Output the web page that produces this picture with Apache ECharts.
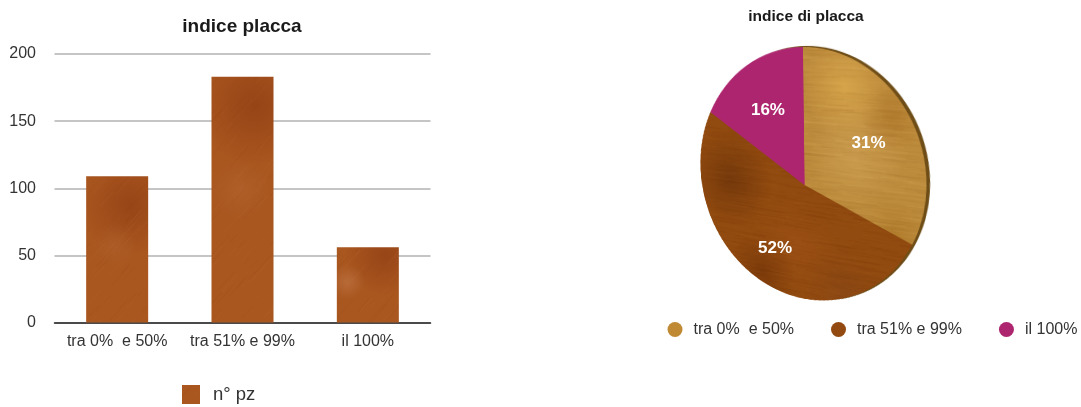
<!DOCTYPE html>
<html>
<head>
<meta charset="utf-8">
<script src="https://cdn.jsdelivr.net/npm/echarts@6/dist/echarts.min.js"></script>
<style>
  html, body { margin: 0; padding: 0; background: #fff; overflow: hidden; }
  #stage { position: relative; width: 1081px; height: 407px; }
  #disc { position: absolute; left: 0; top: 0; width: 340px; height: 340px; transform-origin: 0 0; }
  #main { position: absolute; left: 0; top: 0; width: 1081px; height: 407px; }
</style>
</head>
<body>
<div id="stage">
  <div id="disc"></div>
  <div id="main"></div>
</div>
<script>
// Data
const categories = ['tra 0%  e 50%', 'tra 51% e 99%', 'il 100%'];
const patientCounts = [109, 183, 56];
const platePercents = [31, 52, 16];
const yTicks = { min: 0, max: 200, interval: 50 };
const barSeriesName = 'n° pz';
const barTitle = 'indice placca';
const pieTitle = 'indice di placca';

const FONT = '"Liberation Sans", Arial, sans-serif';

// Small deterministic hash used for the streaks of the wood-like fills
function hash(i) { const s = Math.sin(i * 12.9898) * 43758.5453; return s - Math.floor(s); }

function makeTexture(w, h, base, blotches, streaks) {
  const c = document.createElement('canvas');
  c.width = w; c.height = h;
  const g = c.getContext('2d');
  g.fillStyle = base;
  g.fillRect(0, 0, w, h);
  blotches.forEach(([x, y, r, col]) => {
    const rg = g.createRadialGradient(x, y, 0, x, y, r);
    rg.addColorStop(0, col);
    rg.addColorStop(1, col.replace(/[\d.]+\)$/, '0)'));
    g.fillStyle = rg;
    g.fillRect(x - r, y - r, r * 2, r * 2);
  });
  for (let i = 0; i < streaks.count; i++) {
    const x = hash(i + 1) * w, y = hash(i + 500) * h;
    const len = streaks.len * (0.4 + hash(i + 900));
    const light = hash(i + 1300) > 0.5;
    g.strokeStyle = light ? streaks.light : streaks.dark;
    g.lineWidth = 0.4 + hash(i + 1700) * 0.6;
    g.beginPath();
    g.moveTo(x, y);
    g.lineTo(x + Math.cos(streaks.angle) * len, y + Math.sin(streaks.angle) * len);
    g.stroke();
  }
  return c;
}

// Bars: warm brown with darker patches near the top and diagonal grain
const barTexture = makeTexture(1081, 407, '#a9561f', [
  [130, 205, 50, 'rgba(140,58,18,0.6)'],
  [255, 105, 60, 'rgba(140,58,18,0.65)'],
  [385, 255, 40, 'rgba(140,58,18,0.6)'],
  [347, 282, 18, 'rgba(200,130,85,0.45)'],
  [240, 190, 30, 'rgba(190,115,65,0.3)'],
  [115, 245, 22, 'rgba(190,115,65,0.25)'],
  [190, 395, 10, 'rgba(130,50,15,0.4)']
], { count: 2600, len: 22, angle: -0.85, light: 'rgba(205,130,80,0.12)', dark: 'rgba(120,45,10,0.1)' });

// Pie: horizontal grain in gold, brown and magenta
const goldTexture = makeTexture(340, 340, '#bd8b3c', [
  [215, 60, 50, 'rgba(225,175,80,0.7)'],
  [230, 130, 60, 'rgba(215,170,95,0.55)'],
  [270, 90, 36, 'rgba(165,105,30,0.5)'],
  [280, 220, 40, 'rgba(165,110,30,0.6)']
], { count: 1500, len: 50, angle: 0.03, light: 'rgba(235,195,115,0.14)', dark: 'rgba(130,80,20,0.12)' });
const brownTexture = makeTexture(340, 340, '#914a0f', [
  [60, 170, 60, 'rgba(105,50,10,0.7)'],
  [150, 250, 60, 'rgba(165,85,25,0.5)'],
  [100, 290, 50, 'rgba(110,48,8,0.6)'],
  [220, 300, 60, 'rgba(135,70,25,0.5)']
], { count: 1500, len: 45, angle: 0.05, light: 'rgba(190,115,45,0.12)', dark: 'rgba(90,40,5,0.12)' });
const magentaFill = '#ad256f';

const pieTotal = platePercents.reduce((a, b) => a + b, 0);

// Disc geometry: the pie is drawn flat, then tilted in perspective
const DISC = { cx: 165, cy: 170, r: 150 };
const discPoint = (angle, frac) => [
  DISC.cx + DISC.r * frac * Math.sin(angle),
  DISC.cy - DISC.r * frac * Math.cos(angle)
];
const HALF_PI = Math.PI / 2;
const anchorsFlat = [discPoint(0, 1), discPoint(HALF_PI, 1), discPoint(2 * HALF_PI, 1), discPoint(3 * HALF_PI, 1)];
const anchorsPage = [[803, 47], [926, 196], [806, 299], [701, 176]];

function solveHomography(src, dst) {
  const A = [];
  src.forEach(([x, y], i) => {
    const [u, v] = dst[i];
    A.push([x, y, 1, 0, 0, 0, -x * u, -y * u, u]);
    A.push([0, 0, 0, x, y, 1, -x * v, -y * v, v]);
  });
  for (let i = 0; i < 8; i++) {
    let p = i;
    for (let r = i + 1; r < 8; r++) if (Math.abs(A[r][i]) > Math.abs(A[p][i])) p = r;
    [A[i], A[p]] = [A[p], A[i]];
    for (let r = 0; r < 8; r++) {
      if (r === i) continue;
      const f = A[r][i] / A[i][i];
      for (let c = i; c < 9; c++) A[r][c] -= f * A[i][c];
    }
  }
  const h = A.map((row, i) => row[8] / row[i]);
  return [h[0], h[1], h[2], h[3], h[4], h[5], h[6], h[7], 1];
}
const H = solveHomography(anchorsFlat, anchorsPage);
const project = ([x, y]) => {
  const w = H[6] * x + H[7] * y + H[8];
  return [(H[0] * x + H[1] * y + H[2]) / w, (H[3] * x + H[4] * y + H[5]) / w];
};

const discEl = document.getElementById('disc');
discEl.style.transform = 'matrix3d(' + [
  H[0], H[3], 0, H[6],
  H[1], H[4], 0, H[7],
  0, 0, 1, 0,
  H[2], H[5], 0, H[8]
].join(',') + ')';

const discChart = echarts.init(discEl, null, { devicePixelRatio: 2 });
discChart.setOption({
  animation: false,
  series: [
    { // Rim of the disc, showing along the upper right edge
      type: 'pie', silent: true, z: 1,
      center: [DISC.cx + 4, DISC.cy - 1], radius: [0, DISC.r],
      label: { show: false }, labelLine: { show: false },
      data: [{ value: pieTotal, name: 'rim', itemStyle: { color: '#6e4d17' } }]
    },
    {
      type: 'pie', silent: true, z: 2,
      center: [DISC.cx, DISC.cy], radius: [0, DISC.r], startAngle: 90, clockwise: true,
      label: { show: false }, labelLine: { show: false },
      itemStyle: { borderWidth: 0 },
      data: categories.map((name, i) => ({
        name, value: platePercents[i],
        itemStyle: { color: [
          { image: goldTexture, repeat: 'repeat' },
          { image: brownTexture, repeat: 'repeat' },
          magentaFill
        ][i] }
      }))
    }
  ]
});

// Percent labels sit at each slice's mid-angle, carried through the tilt
let running = 0;
const LABEL_FRAC = 0.64;
const pieLabels = platePercents.map(v => {
  const mid = (running + v / 2) / pieTotal * 2 * Math.PI;
  running += v;
  const [x, y] = project(discPoint(mid, LABEL_FRAC));
  return {
    type: 'text', x, y, z: 100, silent: true,
    style: {
      text: v + '%', fill: '#fff', font: 'bold 17px ' + FONT,
      align: 'center', verticalAlign: 'middle',
      shadowColor: 'rgba(0,0,0,0.75)', shadowBlur: 3, shadowOffsetX: 1, shadowOffsetY: 1
    }
  };
});

const mainChart = echarts.init(document.getElementById('main'));
mainChart.setOption({
  animation: false,
  backgroundColor: 'transparent',
  title: [
    { text: barTitle, left: 242, top: 17, padding: 0, textAlign: 'center',
      textStyle: { fontFamily: FONT, fontWeight: 'bold', fontSize: 19, color: '#1a1a1a' } },
    { text: pieTitle, left: 806, top: 9, padding: 0, textAlign: 'center',
      textStyle: { fontFamily: FONT, fontWeight: 'bold', fontSize: 15.5, color: '#1a1a1a' } }
  ],
  legend: [
    { data: [{ name: barSeriesName, icon: 'rect' }], left: 182, top: 385, padding: 0, itemWidth: 18, itemHeight: 19,
      selectedMode: false,
      textStyle: { fontFamily: FONT, fontSize: 18.5, color: '#333', padding: [0, 0, 0, 8] } },
    { data: categories, left: 667.5, top: 321.5, padding: 0, itemWidth: 15, itemHeight: 15, itemGap: 37,
      icon: 'circle', selectedMode: false,
      textStyle: { fontFamily: FONT, fontSize: 16, color: '#333', padding: [0, 0, 0, 6] } }
  ],
  grid: { left: 54.5, right: 650.5, top: 54, bottom: 84.5 },
  xAxis: {
    type: 'category', data: categories,
    axisTick: { show: false },
    axisLine: { lineStyle: { color: '#222', width: 1.5 } },
    axisLabel: { fontFamily: FONT, fontSize: 16, color: '#333', margin: 11, interval: 0, hideOverlap: false }
  },
  yAxis: {
    type: 'value', min: yTicks.min, max: yTicks.max, interval: yTicks.interval,
    axisLine: { show: false }, axisTick: { show: false },
    axisLabel: { fontFamily: FONT, fontSize: 16, color: '#333', margin: 18.5 },
    splitLine: { lineStyle: { color: '#b2b2b2', width: 1.5 } }
  },
  series: [
    {
      name: barSeriesName, type: 'bar', data: patientCounts, barWidth: 62,
      itemStyle: { color: { image: barTexture, repeat: 'repeat' } }
    },
    { // Zero-size pie that supplies the entries of the right legend
      type: 'pie', silent: true, center: [806, 170], radius: [0, 0],
      label: { show: false }, labelLine: { show: false },
      data: categories.map((name, i) => ({
        name, value: platePercents[i],
        itemStyle: { color: ['#c08a34', '#934a10', magentaFill][i] }
      }))
    }
  ],
  graphic: pieLabels
});
</script>
</body>
</html>
